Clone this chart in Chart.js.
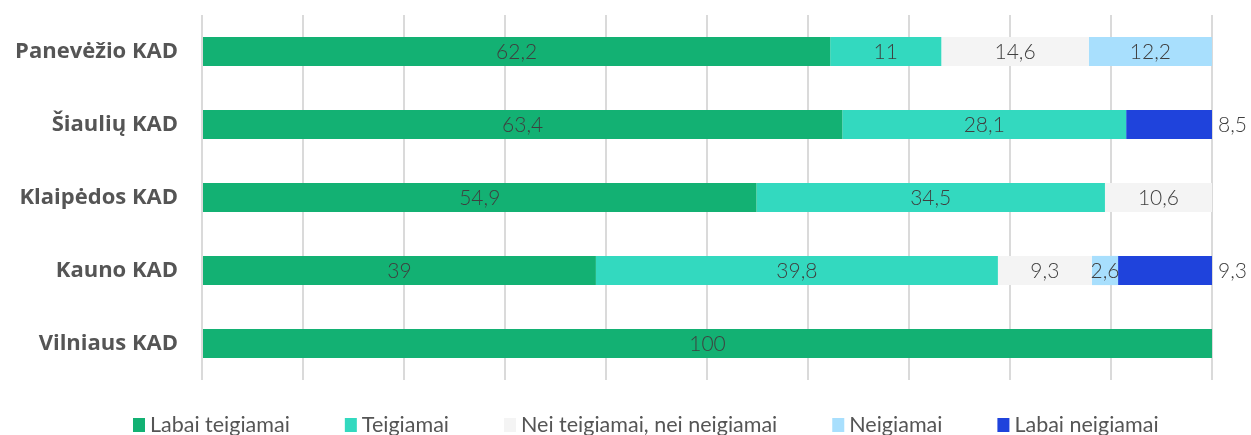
<!DOCTYPE html>
<html>
<head>
<meta charset="utf-8">
<script src="https://cdn.jsdelivr.net/npm/chart.js@4/dist/chart.umd.min.js"></script>
<style>
  html, body { margin: 0; padding: 0; background: #fff; }
  #wrap { width: 1251px; height: 435px; position: relative; }
</style>
</head>
<body>
<div id="wrap"><canvas id="c" width="1251" height="435"></canvas></div>
<script>
const categories = ["Panevėžio KAD", "Šiaulių KAD", "Klaipėdos KAD", "Kauno KAD", "Vilniaus KAD"];
const seriesNames = ["Labai teigiamai", "Teigiamai", "Nei teigiamai, nei neigiamai", "Neigiamai", "Labai neigiamai"];
const labaiTeigiamai = [62.2, 63.4, 54.9, 39, 100];
const teigiamai = [11, 28.1, 34.5, 39.8, 0];
const neiTeigiamai = [14.6, 0, 10.6, 9.3, 0];
const neigiamai = [12.2, 0, 0, 2.6, 0];
const labaiNeigiamai = [0, 8.5, 0, 9.3, 0];
const colors = ["#13b173", "#33d9bf", "#f4f4f4", "#a8dffd", "#1f43dc"];

const seriesValues = [labaiTeigiamai, teigiamai, neiTeigiamai, neigiamai, labaiNeigiamai];

const datasets = seriesNames.map((name, i) => ({
  label: name,
  data: seriesValues[i],
  backgroundColor: colors[i],
  borderWidth: 0,
  barPercentage: 0.4,
  categoryPercentage: 1.0
}));

const labelPlugin = {
  id: 'valueLabels',
  afterDatasetsDraw(chart) {
    const ctx = chart.ctx;
    ctx.save();
    ctx.font = '300 21px Lato, "Open Sans", sans-serif';
    ctx.fillStyle = '#3f3f3f';
    ctx.textBaseline = 'middle';
    chart.data.datasets.forEach((ds, di) => {
      const meta = chart.getDatasetMeta(di);
      meta.data.forEach((bar, i) => {
        const v = ds.data[i];
        if (!v) return;
        const txt = String(v).replace('.', ',');
        const left = Math.min(bar.x, bar.base), right = Math.max(bar.x, bar.base);
        if (di === chart.data.datasets.length - 1) {
          ctx.textAlign = 'left';
          ctx.fillText(txt, right + 6, bar.y + 1);
        } else {
          ctx.textAlign = 'center';
          ctx.fillText(txt, (left + right) / 2, bar.y + 1);
        }
      });
    });
    ctx.restore();
  }
};

const legendPlugin = {
  id: 'customLegend',
  afterDraw(chart) {
    const ctx = chart.ctx;
    ctx.save();
    ctx.font = '400 21.5px Lato, "Open Sans", sans-serif';
    ctx.textBaseline = 'middle';
    ctx.textAlign = 'left';
    let x = 133;
    const yc = 425;
    chart.data.datasets.forEach((ds) => {
      ctx.fillStyle = ds.backgroundColor;
      ctx.fillRect(x, yc - 7, 12, 14);
      ctx.fillStyle = '#555555';
      ctx.fillText(ds.label, x + 17, yc);
      x += 17 + ctx.measureText(ds.label).width + 55;
    });
    ctx.restore();
  }
};

new Chart(document.getElementById('c'), {
  type: 'bar',
  data: { labels: categories, datasets },
  options: {
    indexAxis: 'y',
    responsive: false,
    animation: false,
    layout: { padding: { top: 15, right: 39, bottom: 55, left: 0 } },
    plugins: {
      legend: { display: false },
      tooltip: { enabled: false }
    },
    scales: {
      x: {
        stacked: true,
        min: 0,
        max: 100,
        z: 1,
        ticks: { display: false, stepSize: 10 },
        grid: { color: 'rgba(205,205,205,0.75)', lineWidth: 2, drawTicks: false },
        border: { display: false }
      },
      y: {
        stacked: true,
        afterFit(s) { s.width = 202; s.paddingTop = 0; s.paddingBottom = 0; },
        ticks: {
          color: '#555555',
          padding: 24,
          font: { family: '"Open Sans", Lato, sans-serif', size: 22, weight: '700' }
        },
        grid: { display: false, drawTicks: false },
        border: { display: false }
      }
    }
  },
  plugins: [labelPlugin, legendPlugin]
});
</script>
</body>
</html>
